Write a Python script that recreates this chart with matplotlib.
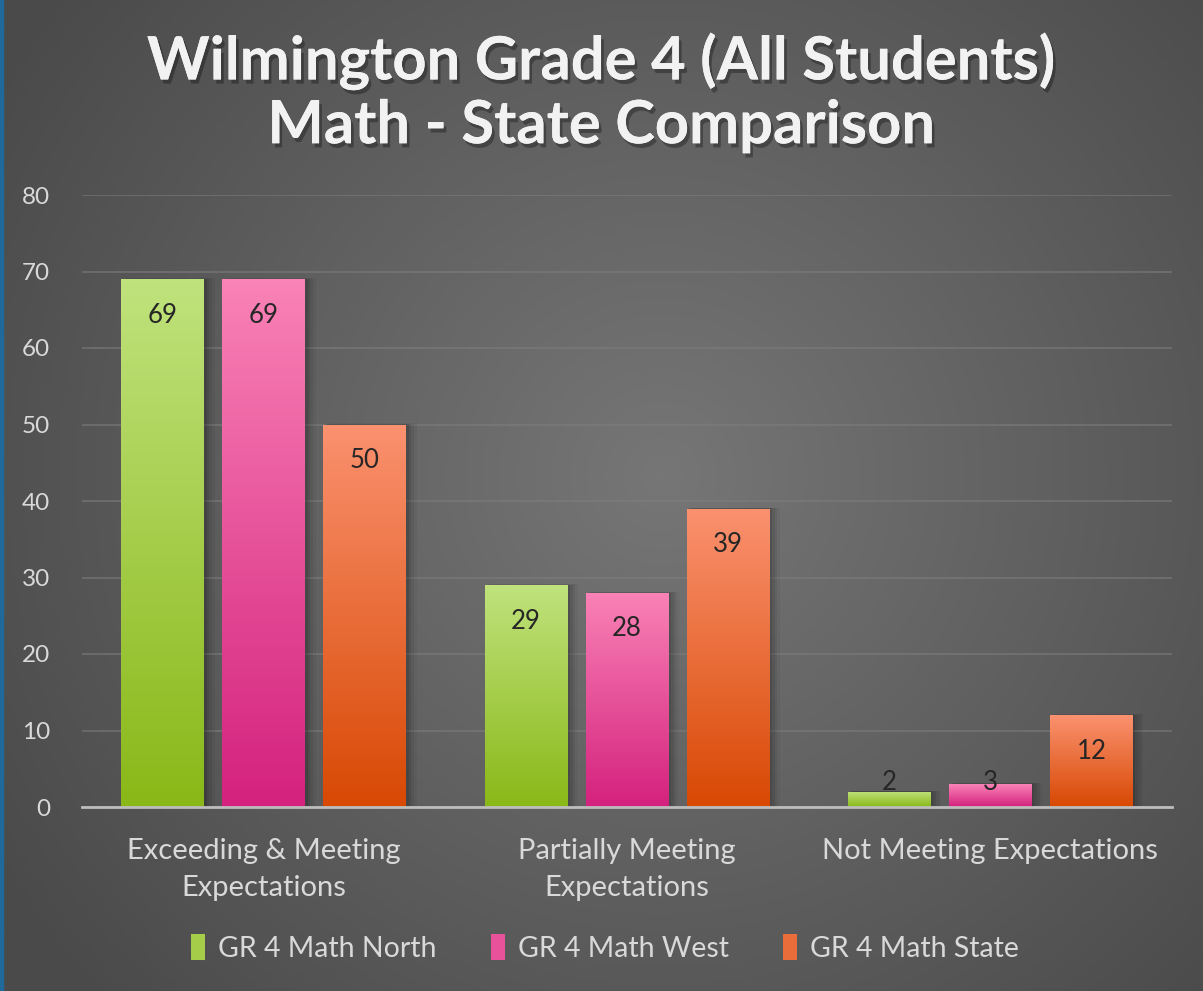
import numpy as np
import matplotlib
matplotlib.use("Agg")
import matplotlib.pyplot as plt
from matplotlib.patches import Rectangle
from matplotlib.colors import LinearSegmentedColormap
import matplotlib.patheffects as pe

plt.rcParams["font.family"] = ["Lato", "DejaVu Sans"]

# ---- data ----
categories = ["Exceeding & Meeting\nExpectations", "Partially Meeting\nExpectations",
              "Not Meeting Expectations"]
series = ["GR 4 Math North", "GR 4 Math West", "GR 4 Math State"]
north = [69, 29, 2]
west = [69, 28, 3]
state = [50, 39, 12]
values = [north, west, state]
yticks = [0, 10, 20, 30, 40, 50, 60, 70, 80]

# gradient (top, bottom) per series
grads = [("#c0e27c", "#8ab818"), ("#f982b6", "#d4227e"), ("#fa916f", "#d84904")]

fig = plt.figure(figsize=(12.03, 9.91), dpi=100)

# ---- radial background ----
bg = fig.add_axes([0, 0, 1, 1], zorder=-10)
yy, xx = np.mgrid[0:1:400j, 0:1:480j]
r = np.sqrt(((xx - 0.55) * 1.2) ** 2 + (yy - 0.52) ** 2)
r = np.clip(r / 0.78, 0, 1)
bgcmap = LinearSegmentedColormap.from_list("bg", ["#767676", "#4a4a4a"])
bg.imshow(r, cmap=bgcmap, extent=[0, 1, 0, 1], aspect="auto", origin="lower")
bg.add_patch(Rectangle((0, 0), 0.0022, 1, color="#1f6a9a", transform=bg.transAxes))
bg.set_xlim(0, 1); bg.set_ylim(0, 1); bg.axis("off")

# ---- main axes ----
ax = fig.add_axes([82 / 1203, 1 - 807 / 991, (1172 - 82) / 1203, (807 - 195) / 991])
ax.patch.set_alpha(0)
x = np.arange(len(categories))
width = 0.228
offsets = [-0.278, 0, 0.278]

for vals, off, (top, bot), name in zip(values, offsets, grads, series):
    bars = ax.bar(x + off, vals, width, color="none", edgecolor="none", zorder=3, label=name)
    cm = LinearSegmentedColormap.from_list(name, [bot, top])
    for p, v in zip(bars.patches, vals):
        bx, by, bw, bh = p.get_x(), p.get_y(), p.get_width(), p.get_height()
        # soft shadow
        for i, a in enumerate([0.10, 0.08, 0.06, 0.04]):
            d = 0.006 + i * 0.006
            ax.add_patch(Rectangle((bx + d * 0.6, by), bw + d * 0.6, bh + d * 6,
                                   facecolor="black", alpha=a, edgecolor="none", zorder=2))
        im = ax.imshow(np.linspace(0, 1, 100).reshape(-1, 1), cmap=cm, origin="lower",
                       extent=[bx, bx + bw, by, by + bh], aspect="auto", zorder=3)
        im.set_clip_path(p)
        ly = max(v - 4.7, 3.2)
        ax.text(bx + bw / 2, ly, str(v), ha="center", va="center", fontsize=18.5,
                color="#262626", zorder=5)

ax.set_xlim(-0.5, 2.5)
ax.set_ylim(0, 80)
ax.set_yticks(yticks)
ax.set_yticklabels([str(t) for t in yticks])
ax.grid(axis="y", color="#7e7e7e", linewidth=1.3, alpha=0.6, zorder=0)
ax.set_axisbelow(True)
for s in ["top", "right", "left"]:
    ax.spines[s].set_visible(False)
ax.spines["bottom"].set_color("#bdbdbd")
ax.spines["bottom"].set_linewidth(2)
ax.spines["bottom"].set_zorder(6)
ax.tick_params(axis="y", length=0, labelsize=17.5, labelcolor="#d9d9d9", pad=23)
ax.tick_params(axis="x", length=0, labelsize=21, labelcolor="#d9d9d9", pad=22)
ax.set_xticks(x)
ax.set_xticklabels(categories, linespacing=1.55)

# ---- title ----
fig.text(0.5, 1 - 93 / 991, "Wilmington Grade 4 (All Students)\nMath - State Comparison",
         ha="center", va="center", fontsize=43, fontweight="bold", color="#f2f2f2",
         linespacing=1.2,
         path_effects=[pe.withSimplePatchShadow(offset=(2, -3), shadow_rgbFace="black", alpha=0.3),
                       pe.Normal()])

# ---- legend ----
handles = [Rectangle((0, 0), 1, 1, facecolor=LinearSegmentedColormap.from_list("m", [b, t])(0.5))
           for t, b in grads]
leg = fig.legend(handles, series, loc="center", bbox_to_anchor=(0.503, 1 - 948 / 991), ncol=3,
                 frameon=False, fontsize=20.5, labelcolor="#d9d9d9", handlelength=0.5,
                 handleheight=1.0, handletextpad=0.45, columnspacing=1.9)

fig.savefig("out.png", dpi=100)
